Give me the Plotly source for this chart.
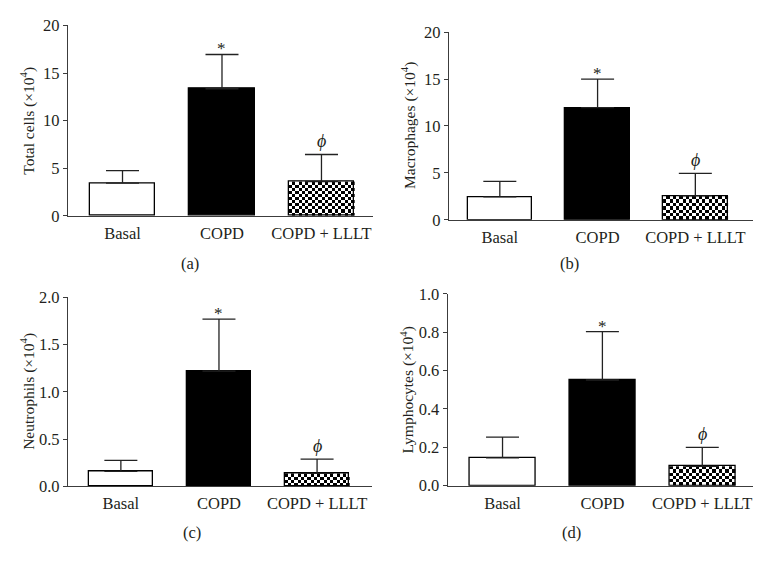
import numpy as np
import plotly.graph_objects as go

W, H = 765, 573

groups = ["Basal", "COPD", "COPD + LLLT"]

total_cells = [3.45, 13.35, 3.6]
total_cells_err = [1.3, 3.6, 2.85]
macrophages = [2.45, 11.95, 2.55]
macrophages_err = [1.65, 3.05, 2.4]
neutrophils = [0.158, 1.22, 0.137]
neutrophils_err = [0.117, 0.55, 0.152]
lymphocytes = [0.145, 0.551, 0.101]
lymphocytes_err = [0.108, 0.252, 0.099]

y_titles = ["Total cells (×10<sup>4</sup>)", "Macrophages (×10<sup>4</sup>)",
            "Neutrophils (×10<sup>4</sup>)", "Lymphocytes (×10<sup>4</sup>)"]
panel_labels = ["(a)", "(b)", "(c)", "(d)"]
y_ranges = [[0, 20], [0, 20], [0, 2.0], [0, 1.0]]
y_dticks = [5, 5, 0.5, 0.2]
y_formats = ["d", "d", ".1f", ".1f"]

# pixel layout of each panel: (x_left, x_right, y_top, y_bottom)
panels_px = [(68, 373, 17, 214), (449, 753, 24, 218),
             (68, 372, 298.3, 493.7), (447.7, 752.7, 294.7, 493)]
label_px = [(190, 263), (569, 263), (192, 541), (571, 541)]
x_ranges = [[-0.548, 2.518], [-0.52, 2.59], [-0.539, 2.56], [-0.549, 2.505]]
bar_w = 0.66

FONT = "Liberation Serif"
AX = "#3c3c3c"
TXT = "#231f20"

values = [total_cells, macrophages, neutrophils, lymphocytes]
errors = [total_cells_err, macrophages_err, neutrophils_err, lymphocytes_err]

fig = go.Figure()
annotations = []
layout = {}
for k in range(4):
    xl, xr, yt, yb = panels_px[k]
    xa = "x" if k == 0 else f"x{k+1}"
    ya = "y" if k == 0 else f"y{k+1}"
    vals = values[k]
    errs = errors[k]
    # checkered fill for the third group (heatmap tiles inside the bar)
    px_per_y = (yb - yt) / (y_ranges[k][1] - y_ranges[k][0])
    bar_h_px = vals[2] * px_per_y
    sq = 3.3
    ny = max(1, int(round(bar_h_px / sq)))
    nx = 20
    xe = np.linspace(2 - bar_w / 2, 2 + bar_w / 2, nx + 1)
    ye = np.linspace(0, vals[2], ny + 1)
    z = [[(i + j) % 2 for j in range(nx)] for i in range(ny)]
    fig.add_trace(go.Heatmap(x=xe, y=ye, z=z, xaxis=xa, yaxis=ya,
                             colorscale=[[0, "white"], [1, "black"]],
                             showscale=False, hoverinfo="skip", zsmooth=False))
    fig.add_trace(go.Bar(
        x=[0, 1, 2], y=vals, width=bar_w, xaxis=xa, yaxis=ya,
        marker=dict(color=["white", "black", "rgba(0,0,0,0)"],
                    line=dict(color="black", width=1.3)),
        error_y=dict(type="data", array=errs, arrayminus=[0, 0, 0], symmetric=False,
                     color="#222", thickness=1.3, width=16.5),
        showlegend=False, hoverinfo="skip"))
    layout[("xaxis" if k == 0 else f"xaxis{k+1}")] = dict(
        domain=[xl / W, xr / W], range=x_ranges[k], anchor=ya,
        tickmode="array", tickvals=[0, 1, 2], ticktext=groups,
        ticks="outside", ticklen=2, tickcolor="rgba(0,0,0,0)",
        showline=True, linecolor=AX, linewidth=1.3, showgrid=False, zeroline=False,
        tickfont=dict(family=FONT, size=16.5, color=TXT), fixedrange=True)
    layout[("yaxis" if k == 0 else f"yaxis{k+1}")] = dict(
        domain=[1 - yb / H, 1 - yt / H], range=y_ranges[k], anchor=xa,
        dtick=y_dticks[k], tick0=0, tickformat=y_formats[k],
        ticks="outside", ticklen=4, tickcolor=AX, tickwidth=1.2,
        showline=True, linecolor=AX, linewidth=1.3, showgrid=False, zeroline=False,
        tickfont=dict(family=FONT, size=16.5, color=TXT), fixedrange=True)
    annotations.append(dict(text=y_titles[k], xref="paper", yref="paper",
                            x=(xl - 40) / W, y=1 - (yt + yb) / 2 / H,
                            textangle=-90, showarrow=False, xanchor="center", yanchor="middle",
                            font=dict(family=FONT, size=15.5, color=TXT)))
    lx, ly = label_px[k]
    annotations.append(dict(text=panel_labels[k], xref="paper", yref="paper",
                            x=lx / W, y=1 - ly / H,
                            showarrow=False, xanchor="center", yanchor="middle",
                            font=dict(family=FONT, size=16.5, color=TXT)))
    annotations.append(dict(text="*", x=1, y=vals[1] + errs[1], xref=xa, yref=ya,
                            showarrow=False, yanchor="bottom", yshift=-6,
                            font=dict(family=FONT, size=17, color=TXT)))
    annotations.append(dict(text="<i>ϕ</i>", x=2, y=vals[2] + errs[2], xref=xa, yref=ya,
                            showarrow=False, yanchor="bottom", yshift=1,
                            font=dict(family=FONT, size=18, color=TXT)))

fig.update_layout(width=W, height=H, margin=dict(l=0, r=0, t=0, b=0),
                  plot_bgcolor="white", paper_bgcolor="white",
                  annotations=annotations, bargap=0, **layout)
fig.write_html("out.html", config={"displayModeBar": False},
               post_script="document.body.style.margin='0';document.body.style.overflow='hidden';")
